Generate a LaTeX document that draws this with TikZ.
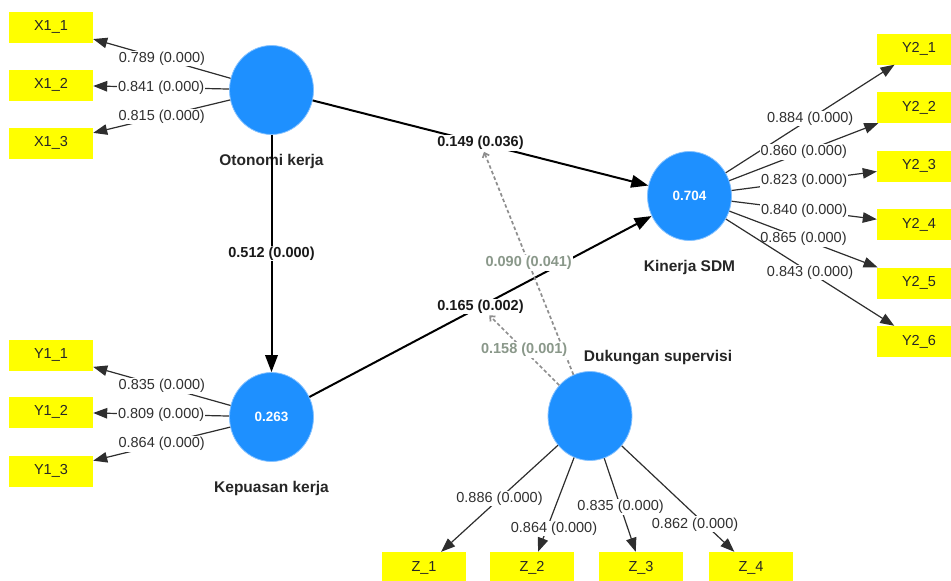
\documentclass[tikz,border=0pt]{standalone}
\usepackage{fontspec}
\setmainfont{Liberation Sans}
\usetikzlibrary{arrows.meta,positioning,shapes.geometric}
\definecolor{lvblue}{HTML}{1E90FF}
\definecolor{lvrim}{HTML}{86C2FF}
\definecolor{indyellow}{HTML}{FFFF00}
\definecolor{inktext}{HTML}{303030}
\definecolor{modgray}{HTML}{8E8E8E}
\definecolor{modtext}{HTML}{8A988A}
\tikzset{
  lv/.style={ellipse, draw=lvrim, fill=lvblue, line width=0.8pt,
    minimum width=84pt, minimum height=89pt, inner sep=0pt,
    text=white, font=\fontsize{13.5}{15}\selectfont\bfseries},
  ind/.style={rectangle, fill=indyellow, minimum width=84pt, minimum height=31pt,
    inner sep=0pt, text=black!85, font=\fontsize{14.5}{16}\selectfont},
  lvname/.style={inner sep=0pt, text=black!85, font=\fontsize{15.5}{17}\selectfont\bfseries},
  % outer loadings
  load/.style={-{Triangle[length=14pt,width=10.5pt]}, line width=1.2pt, draw=black!82},
  ld/.style={fill=white, inner sep=1pt, text=inktext, font=\fontsize{14.5}{16}\selectfont},
  % inner model
  struct/.style={-{Triangle[length=17pt,width=12.5pt]}, line width=2pt, draw=black},
  pc/.style={fill=white, inner sep=1pt, text=black!90, font=\fontsize{14.5}{16}\selectfont\bfseries},
  % moderating effects
  moder/.style={-{Straight Barb[length=4pt,width=7pt]}, dash pattern=on 3.5pt off 2.5pt,
    line width=1.7pt, draw=modgray},
  mc/.style={fill=white, inner sep=1pt, text=modtext, font=\fontsize{14.5}{16}\selectfont\bfseries},
}

\begin{document}
\begin{tikzpicture}[x=1pt,y=-1pt]
  \useasboundingbox (0,0) rectangle (951,581);
  % latent variables
  \node[lv] (otonomi) at (271.5,90) {};
  \node[lv] (kepuasan) at (271.5,417) {0.263};
  \node[lv] (kinerja) at (689.5,196) {0.704};
  \node[lv] (dukungan) at (590,416) {};
  \node[lvname, below=19pt of otonomi] (otoname) {Otonomi kerja};
  \node[lvname, below=19pt of kepuasan] (kepname) {Kepuasan kerja};
  \node[lvname, below=19pt of kinerja] (kinname) {Kinerja SDM};
  \node[lvname, above=6pt of dukungan, xshift=68pt] (dukname) {Dukungan supervisi};
  % indicators
  \foreach \i/\y in {1/27,2/85,3/143}
    \node[ind] (x1\i) at (51,\y) {X1\_\i};
  \foreach \i/\y in {1/355,2/412,3/471}
    \node[ind] (y1\i) at (51,\y) {Y1\_\i};
  \foreach \i/\y in {1/49,2/107.5,3/166,4/224.5,5/283,6/341.5}
    \node[ind] (y2\i) at (919,\y) {Y2\_\i};
  \foreach \i/\x in {1/424,2/532,3/641,4/751}
    \node[ind] (z\i) at (\x,567.5) {Z\_\i};
  % outer loadings
  \foreach \i/\v in {1/0.789,2/0.841,3/0.815}
    \draw[load] (otonomi) -- node[ld] {\v{} (0.000)} (x1\i);
  \foreach \i/\v in {1/0.835,2/0.809,3/0.864}
    \draw[load] (kepuasan) -- node[ld] {\v{} (0.000)} (y1\i);
  \foreach \i/\v in {1/0.884,2/0.860,3/0.823,4/0.840,5/0.865,6/0.843}
    \draw[load] (kinerja) -- node[ld] {\v{} (0.000)} (y2\i);
  \foreach \i/\v/\p/\dx in {1/0.886/0.5/0,2/0.864/0.75/7,3/0.835/0.52/0,4/0.862/0.74/-10}
    \draw[load] (dukungan) -- node[ld, pos=\p, xshift=\dx pt] {\v{} (0.000)} (z\i);
  % inner model
  \draw[struct] (otonomi) -- node[pc] (p149) {0.149 (0.036)} (kinerja);
  \draw[struct] (otonomi) -- node[pc] (p512) {0.512 (0.000)} (kepuasan);
  \draw[struct] (kepuasan) -- node[pc] (p165) {0.165 (0.002)} (kinerja);
  \draw[moder] (dukungan) -- node[mc] {0.090 (0.041)} (p149);
  \draw[moder] (dukungan) -- node[mc] {0.158 (0.001)} (p165);
\end{tikzpicture}
\end{document}
